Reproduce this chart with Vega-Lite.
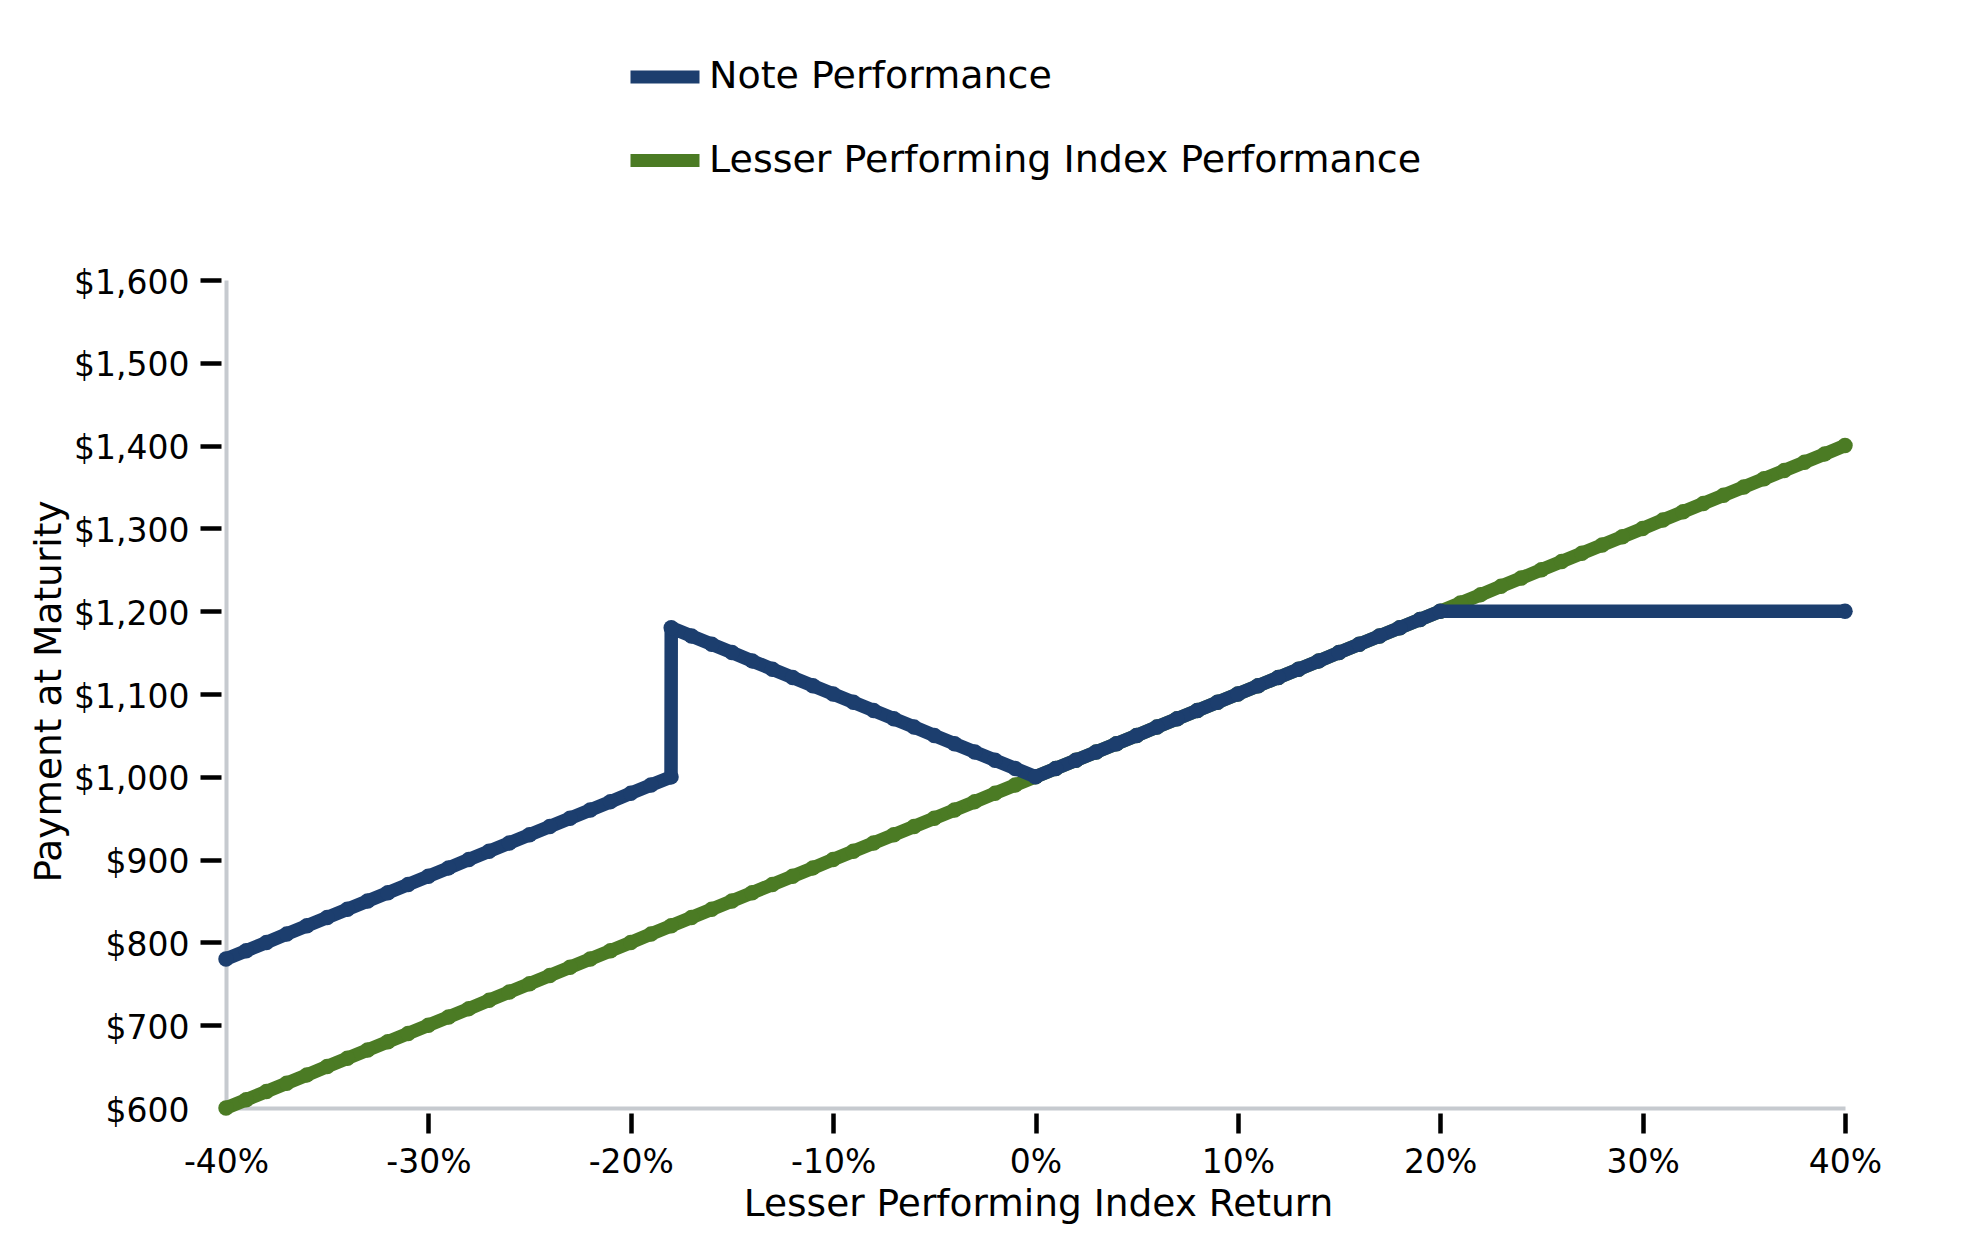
{
  "$schema": "https://vega.github.io/schema/vega-lite/v6.json",
  "width": 1619,
  "height": 828,
  "autosize": {"type": "none"},
  "padding": {"left": 226, "top": 280, "right": 134, "bottom": 142},
  "background": "white",
  "config": {"view": {"stroke": null}, "font": "DejaVu Sans"},
  "datasets": {
    "index": [
      {"r": -0.40, "payment": 600}, {"r": -0.39, "payment": 610}, {"r": -0.38, "payment": 620}, {"r": -0.37, "payment": 630},
      {"r": -0.36, "payment": 640}, {"r": -0.35, "payment": 650}, {"r": -0.34, "payment": 660}, {"r": -0.33, "payment": 670},
      {"r": -0.32, "payment": 680}, {"r": -0.31, "payment": 690}, {"r": -0.30, "payment": 700}, {"r": -0.29, "payment": 710},
      {"r": -0.28, "payment": 720}, {"r": -0.27, "payment": 730}, {"r": -0.26, "payment": 740}, {"r": -0.25, "payment": 750},
      {"r": -0.24, "payment": 760}, {"r": -0.23, "payment": 770}, {"r": -0.22, "payment": 780}, {"r": -0.21, "payment": 790},
      {"r": -0.20, "payment": 800}, {"r": -0.19, "payment": 810}, {"r": -0.18, "payment": 820}, {"r": -0.17, "payment": 830},
      {"r": -0.16, "payment": 840}, {"r": -0.15, "payment": 850}, {"r": -0.14, "payment": 860}, {"r": -0.13, "payment": 870},
      {"r": -0.12, "payment": 880}, {"r": -0.11, "payment": 890}, {"r": -0.10, "payment": 900}, {"r": -0.09, "payment": 910},
      {"r": -0.08, "payment": 920}, {"r": -0.07, "payment": 930}, {"r": -0.06, "payment": 940}, {"r": -0.05, "payment": 950},
      {"r": -0.04, "payment": 960}, {"r": -0.03, "payment": 970}, {"r": -0.02, "payment": 980}, {"r": -0.01, "payment": 990},
      {"r": 0.00, "payment": 1000}, {"r": 0.01, "payment": 1010}, {"r": 0.02, "payment": 1020}, {"r": 0.03, "payment": 1030},
      {"r": 0.04, "payment": 1040}, {"r": 0.05, "payment": 1050}, {"r": 0.06, "payment": 1060}, {"r": 0.07, "payment": 1070},
      {"r": 0.08, "payment": 1080}, {"r": 0.09, "payment": 1090}, {"r": 0.10, "payment": 1100}, {"r": 0.11, "payment": 1110},
      {"r": 0.12, "payment": 1120}, {"r": 0.13, "payment": 1130}, {"r": 0.14, "payment": 1140}, {"r": 0.15, "payment": 1150},
      {"r": 0.16, "payment": 1160}, {"r": 0.17, "payment": 1170}, {"r": 0.18, "payment": 1180}, {"r": 0.19, "payment": 1190},
      {"r": 0.20, "payment": 1200}, {"r": 0.21, "payment": 1210}, {"r": 0.22, "payment": 1220}, {"r": 0.23, "payment": 1230},
      {"r": 0.24, "payment": 1240}, {"r": 0.25, "payment": 1250}, {"r": 0.26, "payment": 1260}, {"r": 0.27, "payment": 1270},
      {"r": 0.28, "payment": 1280}, {"r": 0.29, "payment": 1290}, {"r": 0.30, "payment": 1300}, {"r": 0.31, "payment": 1310},
      {"r": 0.32, "payment": 1320}, {"r": 0.33, "payment": 1330}, {"r": 0.34, "payment": 1340}, {"r": 0.35, "payment": 1350},
      {"r": 0.36, "payment": 1360}, {"r": 0.37, "payment": 1370}, {"r": 0.38, "payment": 1380}, {"r": 0.39, "payment": 1390},
      {"r": 0.40, "payment": 1400}
    ],
    "note": [
      {"r": -0.40, "payment": 780}, {"r": -0.39, "payment": 790}, {"r": -0.38, "payment": 800}, {"r": -0.37, "payment": 810},
      {"r": -0.36, "payment": 820}, {"r": -0.35, "payment": 830}, {"r": -0.34, "payment": 840}, {"r": -0.33, "payment": 850},
      {"r": -0.32, "payment": 860}, {"r": -0.31, "payment": 870}, {"r": -0.30, "payment": 880}, {"r": -0.29, "payment": 890},
      {"r": -0.28, "payment": 900}, {"r": -0.27, "payment": 910}, {"r": -0.26, "payment": 920}, {"r": -0.25, "payment": 930},
      {"r": -0.24, "payment": 940}, {"r": -0.23, "payment": 950}, {"r": -0.22, "payment": 960}, {"r": -0.21, "payment": 970},
      {"r": -0.20, "payment": 980}, {"r": -0.19, "payment": 990}, {"r": -0.1801, "payment": 999.9},
      {"r": -0.18, "payment": 1180}, {"r": -0.17, "payment": 1170}, {"r": -0.16, "payment": 1160}, {"r": -0.15, "payment": 1150},
      {"r": -0.14, "payment": 1140}, {"r": -0.13, "payment": 1130}, {"r": -0.12, "payment": 1120}, {"r": -0.11, "payment": 1110},
      {"r": -0.10, "payment": 1100}, {"r": -0.09, "payment": 1090}, {"r": -0.08, "payment": 1080}, {"r": -0.07, "payment": 1070},
      {"r": -0.06, "payment": 1060}, {"r": -0.05, "payment": 1050}, {"r": -0.04, "payment": 1040}, {"r": -0.03, "payment": 1030},
      {"r": -0.02, "payment": 1020}, {"r": -0.01, "payment": 1010}, {"r": 0.00, "payment": 1000}, {"r": 0.01, "payment": 1010},
      {"r": 0.02, "payment": 1020}, {"r": 0.03, "payment": 1030}, {"r": 0.04, "payment": 1040}, {"r": 0.05, "payment": 1050},
      {"r": 0.06, "payment": 1060}, {"r": 0.07, "payment": 1070}, {"r": 0.08, "payment": 1080}, {"r": 0.09, "payment": 1090},
      {"r": 0.10, "payment": 1100}, {"r": 0.11, "payment": 1110}, {"r": 0.12, "payment": 1120}, {"r": 0.13, "payment": 1130},
      {"r": 0.14, "payment": 1140}, {"r": 0.15, "payment": 1150}, {"r": 0.16, "payment": 1160}, {"r": 0.17, "payment": 1170},
      {"r": 0.18, "payment": 1180}, {"r": 0.19, "payment": 1190}, {"r": 0.20, "payment": 1200}, {"r": 0.40, "payment": 1200}
    ]
  },
  "encoding": {
    "x": {
      "field": "r",
      "type": "quantitative",
      "title": "Lesser Performing Index Return",
      "scale": {"domain": [-0.4, 0.4], "nice": false, "zero": false},
      "axis": {
        "values": [-0.4, -0.3, -0.2, -0.1, 0, 0.1, 0.2, 0.3, 0.4],
        "labelExpr": "(datum.value < -0.0001 ? '-' : '') + format(abs(datum.value), '.0%')",
        "labelFont": "DejaVu Sans",
        "labelFontSize": 33,
        "labelColor": "#000000",
        "labelPadding": 13,
        "labelFlush": false,
        "labelOverlap": false,
        "tickSize": 25,
        "tickDash": [0, 5, 20, 40],
        "tickCap": "butt",
        "tickWidth": 4.5,
        "tickColor": "#000000",
        "tickOpacity": {"condition": {"test": "datum.value < -0.39", "value": 0}, "value": 1},
        "domainColor": "#c6cacf",
        "domainWidth": 4,
        "grid": false,
        "titleFont": "DejaVu Sans",
        "titleFontSize": 37.5,
        "titleFontWeight": "normal",
        "titleColor": "#000000",
        "titleX": 812,
        "titleY": 107,
        "titleBaseline": "alphabetic"
      }
    },
    "y": {
      "field": "payment",
      "type": "quantitative",
      "title": "Payment at Maturity",
      "scale": {"domain": [600, 1600], "nice": false, "zero": false},
      "axis": {
        "values": [600, 700, 800, 900, 1000, 1100, 1200, 1300, 1400, 1500, 1600],
        "format": "$,.0f",
        "labelFont": "DejaVu Sans",
        "labelFontSize": 33,
        "labelColor": "#000000",
        "labelPadding": 11,
        "labelOffset": 3,
        "labelFlush": false,
        "labelOverlap": false,
        "tickSize": 26,
        "tickDash": [0, 5, 21, 40],
        "tickCap": "butt",
        "tickWidth": 4.5,
        "tickColor": "#000000",
        "tickOpacity": {"condition": {"test": "datum.value < 601", "value": 0}, "value": 1},
        "domainColor": "#c6cacf",
        "domainWidth": 4,
        "grid": false,
        "titleFont": "DejaVu Sans",
        "titleFontSize": 37.5,
        "titleFontWeight": "normal",
        "titleColor": "#000000",
        "titleX": -166,
        "titleY": 411,
        "titleBaseline": "alphabetic"
      }
    }
  },
  "layer": [
    {
      "data": {"name": "index"},
      "mark": {"type": "line", "strokeWidth": 13.5, "strokeCap": "round", "strokeJoin": "round"},
      "encoding": {
        "color": {
          "datum": "Lesser Performing Index Performance",
          "type": "nominal",
          "scale": {"domain": ["Note Performance", "Lesser Performing Index Performance"], "range": ["#1c3e6e", "#4b7b24"]},
          "legend": {
            "orient": "none",
            "legendX": 398,
            "legendY": -244,
            "title": null,
            "direction": "vertical",
            "symbolType": "stroke",
            "symbolSize": 4761,
            "symbolStrokeWidth": 13,
            "labelFont": "DejaVu Sans",
            "labelFontSize": 38,
            "labelColor": "#000000",
            "labelOffset": 3,
            "labelLimit": 2000,
            "rowPadding": 16.5
          }
        }
      }
    },
    {
      "data": {"name": "index"},
      "mark": {"type": "circle", "size": 240, "opacity": 1},
      "encoding": {"color": {"datum": "Lesser Performing Index Performance", "type": "nominal", "legend": null}}
    },
    {
      "data": {"name": "note"},
      "mark": {"type": "line", "strokeWidth": 13.5, "strokeCap": "round", "strokeJoin": "round"},
      "encoding": {"color": {"datum": "Note Performance", "type": "nominal"}}
    },
    {
      "data": {"name": "note"},
      "mark": {"type": "circle", "size": 240, "opacity": 1},
      "encoding": {"color": {"datum": "Note Performance", "type": "nominal", "legend": null}}
    }
  ]
}
